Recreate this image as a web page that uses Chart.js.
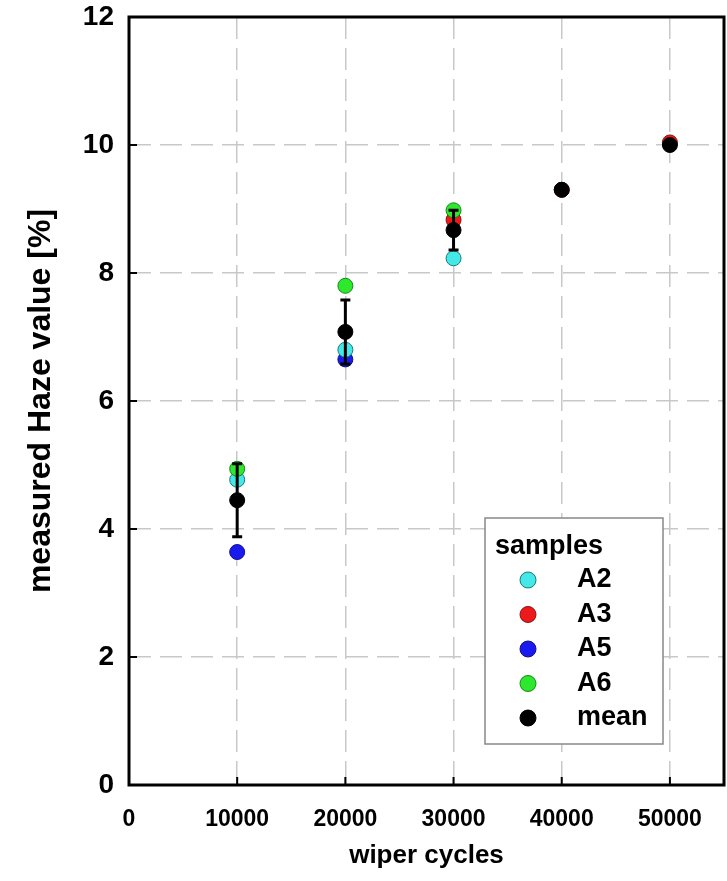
<!DOCTYPE html>
<html>
<head>
<meta charset="utf-8">
<script src="https://cdn.jsdelivr.net/npm/chart.js@4/dist/chart.umd.min.js"></script>
<style>
  html, body { margin: 0; padding: 0; background: #fff; }
  #wrap { width: 727px; height: 881px; }
</style>
</head>
<body>
<div id="wrap"><canvas id="hazeChart" width="727" height="881"></canvas></div>
<script>
// Haze measurements per sample, keyed by wiper cycles
const a2Cycles = [10000, 20000, 30000];
const a2Haze = [4.77, 6.80, 8.23];
const a3Cycles = [30000, 40000, 50000];
const a3Haze = [8.83, 9.30, 10.04];
const a5Cycles = [10000, 20000];
const a5Haze = [3.64, 6.65];
const a6Cycles = [10000, 20000, 30000];
const a6Haze = [4.94, 7.80, 8.98];
const meanCycles = [10000, 20000, 30000, 40000, 50000];
const meanHaze = [4.45, 7.08, 8.67, 9.30, 10.0];
const meanSd = [0.57, 0.50, 0.31, 0, 0];

const xTickValues = [0, 10000, 20000, 30000, 40000, 50000];
const yTickValues = [0, 2, 4, 6, 8, 10, 12];

const FONT = "'Liberation Sans', Arial, sans-serif";

const pts = (xs, ys) => xs.map((x, i) => ({ x, y: ys[i] }));

function series(label, xs, ys, fill, edge, order) {
  return {
    label,
    order,
    data: pts(xs, ys),
    backgroundColor: fill,
    borderColor: edge,
    pointBackgroundColor: fill,
    pointBorderColor: edge,
    pointBorderWidth: 1,
    pointRadius: 7.5,
    showLine: false
  };
}

// no extra room for edge labels, the plot area is set by layout padding
function noPadding(s) {
  s.paddingLeft = 0;
  s.paddingRight = 0;
  s.paddingTop = 0;
  s.paddingBottom = 0;
}

// error bars of the mean, drawn right before the mean dots
const errorBars = {
  id: "errorBars",
  beforeDatasetDraw(chart, args) {
    if (chart.data.datasets[args.index].label !== "mean") return;
    const { ctx, scales: { x, y } } = chart;
    ctx.save();
    ctx.strokeStyle = "#000";
    ctx.lineWidth = 3;
    meanCycles.forEach((c, i) => {
      if (!meanSd[i]) return;
      const px = x.getPixelForValue(c);
      const top = y.getPixelForValue(meanHaze[i] + meanSd[i]);
      const bot = y.getPixelForValue(meanHaze[i] - meanSd[i]);
      ctx.beginPath();
      ctx.moveTo(px, top); ctx.lineTo(px, bot);
      ctx.moveTo(px - 5, top); ctx.lineTo(px + 5, top);
      ctx.moveTo(px - 5, bot); ctx.lineTo(px + 5, bot);
      ctx.stroke();
    });
    ctx.restore();
  }
};

// frame around the plot plus short inward ticks
const frame = {
  id: "frame",
  beforeDatasetsDraw(chart) {
    const { ctx, chartArea: a, scales: { x, y } } = chart;
    ctx.save();
    ctx.strokeStyle = "#000";
    ctx.lineWidth = 2;
    ctx.beginPath();
    xTickValues.forEach(v => {
      const px = x.getPixelForValue(v);
      ctx.moveTo(px, a.bottom); ctx.lineTo(px, a.bottom - 8);
    });
    yTickValues.forEach(v => {
      const py = y.getPixelForValue(v);
      ctx.moveTo(a.left, py); ctx.lineTo(a.left + 8, py);
    });
    ctx.stroke();
    ctx.lineWidth = 3;
    ctx.strokeRect(a.left, a.top, a.right - a.left, a.bottom - a.top);
    ctx.restore();
  }
};

// legend box inside the lower right of the plot
const boxLegend = {
  id: "boxLegend",
  afterDraw(chart) {
    const { ctx, chartArea: a } = chart;
    const left = a.right - 239, top = a.bottom - 267, w = 178, h = 226;
    ctx.save();
    ctx.fillStyle = "#fff";
    ctx.fillRect(left, top, w, h);
    ctx.strokeStyle = "#888";
    ctx.lineWidth = 1.5;
    ctx.strokeRect(left, top, w, h);
    ctx.fillStyle = "#000";
    ctx.font = "bold 27px " + FONT;
    ctx.textBaseline = "middle";
    ctx.fillText("samples", left + 10, top + 29);
    chart.data.datasets.forEach((ds, i) => {
      const cy = top + 62 + i * 34.5;
      ctx.beginPath();
      ctx.arc(left + 43, cy, 8, 0, Math.PI * 2);
      ctx.fillStyle = ds.pointBackgroundColor;
      ctx.fill();
      ctx.lineWidth = 1;
      ctx.strokeStyle = ds.pointBorderColor;
      ctx.stroke();
      ctx.fillStyle = "#000";
      ctx.fillText(ds.label, left + 92, cy);
    });
    ctx.restore();
  }
};

const gridStyle = { color: "#c8c8c8", lineWidth: 1.5, drawTicks: false };

new Chart(document.getElementById("hazeChart"), {
  type: "scatter",
  data: {
    datasets: [
      series("A2", a2Cycles, a2Haze, "#44e8e8", "#1c7a7a", 2),
      series("A3", a3Cycles, a3Haze, "#ee1a1a", "#8a1010", 3),
      series("A5", a5Cycles, a5Haze, "#1a1aee", "#10108a", 4),
      series("A6", a6Cycles, a6Haze, "#2ee82e", "#148a14", 1),
      series("mean", meanCycles, meanHaze, "#000", "#000", 0)
    ]
  },
  options: {
    responsive: false,
    animation: false,
    layout: { autoPadding: false, padding: { top: 17, right: 3, left: 0, bottom: 0 } },
    plugins: { legend: { display: false }, tooltip: { enabled: false } },
    scales: {
      x: {
        type: "linear",
        min: 0,
        max: 55000,
        afterBuildTicks: s => { s.ticks = xTickValues.map(v => ({ value: v })); },
        afterFit: s => { s.height = 96; noPadding(s); },
        grid: gridStyle,
        border: { display: false, dash: [22, 9] },
        ticks: {
          color: "#000",
          padding: 21,
          maxRotation: 0,
          font: { family: FONT, size: 23, weight: "bold" },
          callback: v => String(v)
        },
        title: {
          display: true,
          text: "wiper cycles",
          color: "#000",
          font: { family: FONT, size: 26, weight: "bold" },
          padding: { top: 0, bottom: 10 }
        }
      },
      y: {
        min: 0,
        max: 12,
        afterBuildTicks: s => { s.ticks = yTickValues.map(v => ({ value: v })); },
        afterFit: s => { s.width = 129; noPadding(s); },
        grid: gridStyle,
        border: { display: false, dash: [22, 9] },
        ticks: {
          color: "#000",
          padding: 15,
          font: { family: FONT, size: 28, weight: "bold" },
          callback: v => String(v)
        },
        title: {
          display: true,
          text: "measured Haze value [%]",
          color: "#000",
          font: { family: FONT, size: 32, weight: "bold" },
          padding: { top: 22, bottom: 0 }
        }
      }
    }
  },
  plugins: [errorBars, frame, boxLegend]
});
</script>
</body>
</html>
